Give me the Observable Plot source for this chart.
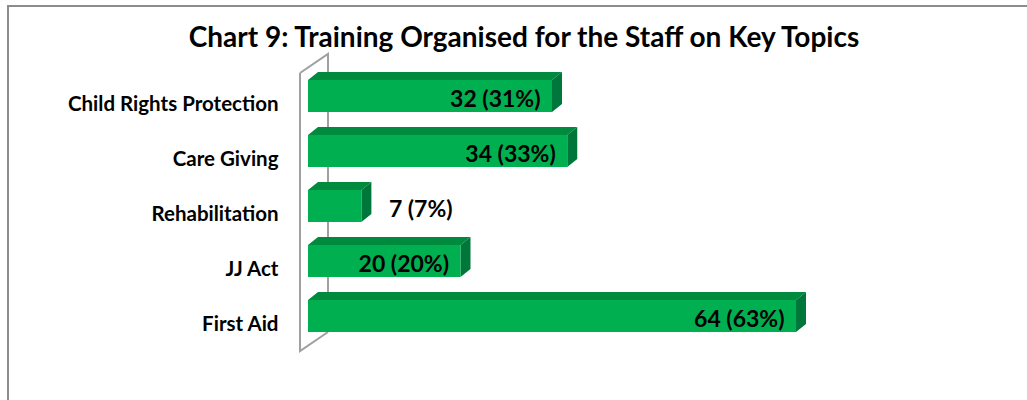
<!DOCTYPE html>
<html>
<head>
<meta charset="utf-8">
<script src="https://cdn.jsdelivr.net/npm/d3@7"></script>
<script src="https://cdn.jsdelivr.net/npm/@observablehq/plot@0.6"></script>
<style>
  html, body { margin: 0; padding: 0; background: #fff; }
  #wrap { position: relative; width: 1027px; height: 400px; overflow: hidden;
    font-family: Lato, "Liberation Sans", sans-serif; }
  #frame { position: absolute; left: 7px; top: 5px; width: 1100px; height: 500px;
    border-left: 2px solid #8c8c8c; border-top: 2px solid #8c8c8c; }
  #title { position: absolute; left: 0; width: 1048px; top: 19px; text-align: center;
    font-size: 28px; font-weight: bold; color: #000; }
  #chart { position: absolute; left: 0; top: 0; }
</style>
</head>
<body>
<div id="wrap">
  <div id="frame"></div>
  <div id="chart"></div>
  <div id="title">Chart 9: Training Organised for the Staff on Key Topics</div>
</div>
<script>
const categories = ["Child Rights Protection", "Care Giving", "Rehabilitation", "JJ Act", "First Aid"];
const counts = [32, 34, 7, 20, 64];
const percents = [31, 33, 7, 20, 63];

const data = categories.map((c, i) => ({
  topic: c, count: counts[i], pct: percents[i],
  label: `${counts[i]} (${percents[i]}%)`
}));

const FRONT = "#00B050", TOP = "#008A3E", SIDE = "#00773A";
const DX = 10, DY = -8;
const bandOf = s => (typeof s.bandwidth === "function" ? s.bandwidth() : s.bandwidth);

// back wall of the 3D chart, drawn from the scales
const wall = (index, scales) => {
  const bw = bandOf(scales.y);
  const x0 = scales.x(0);
  const y0 = scales.y(categories[0]) - 7;
  const y1 = scales.y(categories[categories.length - 1]) + bw + 19;
  const fx = x0 - 8, bx = x0 + 20, ddy = -19;
  const g = d3.create("svg:g").attr("fill", "none").attr("stroke", "#a0a0a0").attr("stroke-width", 2);
  g.append("path").attr("d", `M${fx},${y0}L${bx},${y0 + ddy}L${bx},${y1 + ddy}`);
  g.append("path").attr("d", `M${fx},${y0}L${fx},${y1}L${bx},${y1 + ddy}`);
  return g.node();
};

// top and side faces of the 3D bars
const faces = (index, scales) => {
  const g = d3.create("svg:g");
  const bw = bandOf(scales.y);
  for (const d of data) {
    const xa = scales.x(0), xb = scales.x(d.count);
    const ya = scales.y(d.topic), yb = ya + bw;
    g.append("path").attr("fill", TOP)
      .attr("d", `M${xa},${ya}L${xa + DX},${ya + DY}L${xb + DX},${ya + DY}L${xb},${ya}Z`);
    g.append("path").attr("fill", SIDE)
      .attr("d", `M${xb},${ya}L${xb + DX},${ya + DY}L${xb + DX},${yb + DY}L${xb},${yb}Z`);
  }
  return g.node();
};

const inside = data.filter(d => d.count >= 15);
const outside = data.filter(d => d.count < 15);

const chart = Plot.plot({
  width: 1027,
  height: 400,
  marginLeft: 308,
  marginRight: 185.25,
  marginTop: 55.7,
  marginBottom: 43.5,
  style: { fontFamily: 'Lato, "Liberation Sans", sans-serif', background: "transparent" },
  x: { domain: [0, 70], axis: null },
  y: { domain: categories, padding: 0.42, axis: null },
  marks: [
    wall,
    faces,
    Plot.barX(data, { y: "topic", x: "count", fill: FRONT }),
    Plot.text(data, { y: "topic", x: 0, text: "topic", textAnchor: "end", dx: -30, dy: 8,
      fontSize: 20.5, fontWeight: "bold", fill: "#000" }),
    Plot.text(inside, { y: "topic", x: "count", text: "label", textAnchor: "end", dx: -12, dy: 3,
      fontSize: 23, fontWeight: "bold", fill: "#000" }),
    Plot.text(outside, { y: "topic", x: "count", text: "label", textAnchor: "start", dx: 27, dy: 3,
      fontSize: 23, fontWeight: "bold", fill: "#000" })
  ]
});
document.getElementById("chart").appendChild(chart);
</script>
</body>
</html>
